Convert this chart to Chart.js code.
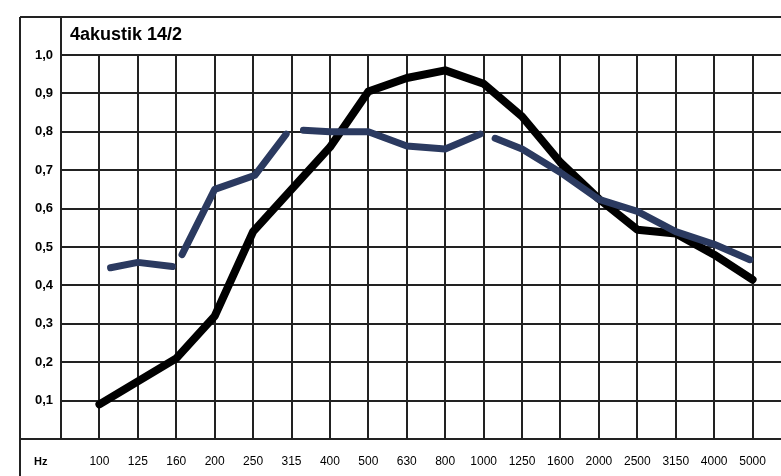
<!DOCTYPE html>
<html>
<head>
<meta charset="utf-8">
<script src="https://cdn.jsdelivr.net/npm/chart.js@4"></script>
<style>
    html, body { margin: 0; padding: 0; background: #fff; overflow: hidden; }
</style>
</head>
<body>
<canvas id="chart" width="781" height="476"></canvas>
<script>
// frequency bands (x axis)
const freqs = ["100", "125", "160", "200", "250", "315", "400", "500", "630", "800",
    "1000", "1250", "1600", "2000", "2500", "3150", "4000", "5000"];

// black curve, one value per band
const blackValues = [0.09, 0.15, 0.21, 0.32, 0.54, 0.65, 0.76, 0.905, 0.94, 0.96,
    0.925, 0.84, 0.72, 0.625, 0.545, 0.535, 0.48, 0.415];

// blue curve is drawn in broken strokes, null = gap
const blueX = [0.29, 1, 1.9, 1.9, 2.15, 3, 4.05, 4.86, 4.86, 5.31, 6, 7, 8, 9, 9.91, 9.91,
    10.3, 11, 12, 13, 14, 15, 16, 16.93];
const blueY = [0.446, 0.46, 0.449, null, 0.48, 0.65, 0.687, 0.794, null, 0.804, 0.80, 0.80,
    0.763, 0.755, 0.794, null, 0.783, 0.755, 0.694, 0.624, 0.593, 0.54, 0.507, 0.467];

const yTicks = [0, 0.1, 0.2, 0.3, 0.4, 0.5, 0.6, 0.7, 0.8, 0.9, 1.0];

const FONT = "Arial, 'Liberation Sans', sans-serif";
const GRID = "#222";

const blackData = blackValues.map((v, i) => ({ x: i, y: v }));
const blueData = blueY.map((v, i) => ({ x: blueX[i], y: v }));

// x grid: one extra line left of the first band
const xTicks = [-1];
freqs.forEach((f, i) => xTicks.push(i));

// outer frame, title row and "Hz"
const frame = {
    id: "frame",
    afterDraw(chart) {
        const c = chart.ctx;
        const area = chart.chartArea;
        const left = 20, top = 17;
        c.save();
        c.strokeStyle = GRID;
        c.lineWidth = 2;
        c.beginPath();
        c.moveTo(left, top); c.lineTo(chart.width, top);
        c.moveTo(left, top); c.lineTo(left, chart.height);
        c.moveTo(area.left, top); c.lineTo(area.left, area.bottom);
        c.moveTo(left, area.bottom); c.lineTo(chart.width, area.bottom);
        c.stroke();

        c.fillStyle = "#000";
        c.font = "bold 18px " + FONT;
        c.textBaseline = "alphabetic";
        c.fillText("4akustik 14/2", 70, 40);

        c.font = "bold 11px " + FONT;
        c.textBaseline = "middle";
        c.fillText("Hz", 34, 462);
        c.restore();
    }
};

new Chart(document.getElementById("chart"), {
    type: "line",
    data: {
        datasets: [
            {
                data: blueData,
                borderColor: "#2b3a60",
                borderWidth: 7,
                borderCapStyle: "round",
                borderJoinStyle: "round",
                pointRadius: 0,
                spanGaps: false,
                tension: 0
            },
            {
                data: blackData,
                borderColor: "#000",
                borderWidth: 8,
                borderCapStyle: "round",
                borderJoinStyle: "round",
                pointRadius: 0,
                tension: 0
            }
        ]
    },
    options: {
        responsive: false,
        animation: false,
        devicePixelRatio: 1,
        layout: { padding: { top: 55, left: 0, right: 0, bottom: 0 } },
        plugins: {
            legend: { display: false },
            tooltip: { enabled: false }
        },
        scales: {
            x: {
                type: "linear",
                min: -1,
                max: 17.74,
                afterBuildTicks: s => { s.ticks = xTicks.map(v => ({ value: v })); },
                afterFit: s => { s.height = 37; },
                grid: { color: GRID, lineWidth: 2, drawTicks: false },
                border: { color: GRID, width: 2 },
                ticks: {
                    padding: 15,
                    color: "#000",
                    font: { family: FONT, size: 12 },
                    maxRotation: 0,
                    autoSkip: false,
                    callback: v => (v >= 0 ? freqs[v] : "")
                }
            },
            y: {
                min: 0,
                max: 1.0,
                afterBuildTicks: s => { s.ticks = yTicks.map(v => ({ value: v })); },
                afterFit: s => { s.width = 61; },
                grid: { color: GRID, lineWidth: 2, drawTicks: false },
                border: { color: GRID, width: 2 },
                ticks: {
                    padding: 8,
                    autoSkip: false,
                    color: "#000",
                    font: { family: FONT, size: 13, weight: "bold" },
                    callback: v => (v === 0 ? "" : v.toFixed(1).replace(".", ","))
                }
            }
        }
    },
    plugins: [frame]
});
</script>
</body>
</html>
